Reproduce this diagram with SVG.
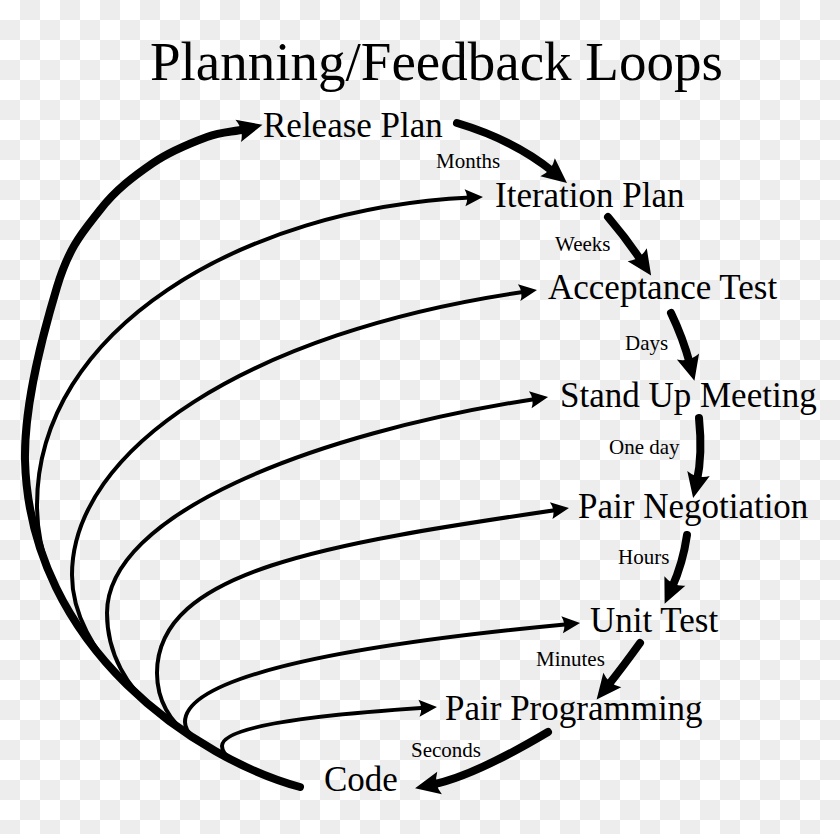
<svg xmlns="http://www.w3.org/2000/svg" width="840" height="834" viewBox="0 0 840 834">
<style>
.t{font-family:"Liberation Serif","Times New Roman",serif;fill:#000}
.n{font-size:35px}
.s{font-size:21px}
.h{font-size:55px}
.thin{fill:none;stroke:#000;stroke-width:4;marker-end:url(#ahs)}
.thick{fill:none;stroke:#000;stroke-width:8;stroke-linecap:round;marker-end:url(#ahl)}
</style>
<defs>
<pattern id="chk" x="0" y="0" width="40" height="40" patternUnits="userSpaceOnUse">
<rect x="0" y="0" width="40" height="40" fill="#ffffff"/>
<rect x="20" y="0" width="20" height="20" fill="#ededed"/>
<rect x="0" y="20" width="20" height="20" fill="#ededed"/>
</pattern>
<marker id="ahs" markerUnits="userSpaceOnUse" orient="auto" viewBox="-10 -12 30 24" markerWidth="30" markerHeight="24" refX="0" refY="0" overflow="visible">
<path d="M12.6,0 L-5.4,-8.5 Q-1,0 -5.4,8.5 Z" fill="#000"/>
</marker>
<marker id="ahl" markerUnits="userSpaceOnUse" orient="auto" viewBox="-12 -14 34 28" markerWidth="34" markerHeight="28" refX="0" refY="0" overflow="visible">
<path d="M17.5,0 L-7.5,-11.5 Q-1.5,0 -7.5,11.5 Z" fill="#000"/>
</marker>
</defs>
<rect x="0" y="0" width="840" height="834" fill="url(#chk)"/>
<text class="t h" x="150" y="80">Planning/Feedback Loops</text>
<g id="connectors">
<path class="thick" d="M300,787 C200,760 30,650 25,460 C24,401 44.5,328.7 57,287 C69.5,245.3 84,230.7 100,210 C116,189.3 135.2,175.2 153,163 C170.8,150.8 191.7,142.7 207,137 C222.3,131.3 232.5,132.2 245.5,129"/>
<path class="thin" d="M75.2,619.6 C60,596 37,560 37,505 C37,330 240.7,208.6 470.4,197.6"/>
<path class="thin" d="M120.3,677.9 C95,652 72,615 72,575 C72,450 247.3,332.1 524.5,291.8"/>
<path class="thin" d="M154.4,709.3 C128,688 107,655 107,613 C107,515 308.4,434.3 535.6,398.9"/>
<path class="thin" d="M190.2,735.7 C170,722.4 157,700 157,673 C157,570 329,543.7 556.5,509.9"/>
<path class="thin" d="M215.6,751.2 C200,742.3 185,735 185,722 C185,680 320,647.5 567.5,624.2"/>
<path class="thin" d="M251,769.2 C238,763.5 222,757 222,746 C222,728 300,716 424.4,707.8"/>
<path class="thick" d="M457,123 Q514,140 553.4,172"/>
<path class="thick" d="M608,217 Q626,238 641.4,261"/>
<path class="thick" d="M671,313 Q683,338 689.9,363.8"/>
<path class="thick" d="M699,418 Q702.7,454.7 696.9,480.9"/>
<path class="thick" d="M687,535 Q683,563 671.8,587.9"/>
<path class="thick" d="M640,643 Q622,668 607.6,685.9"/>
<path class="thick" d="M548,732 Q474,776 432.2,784.6"/>
<text class="t s" x="436" y="168">Months</text>
<text class="t s" x="555" y="251">Weeks</text>
<text class="t s" x="625" y="350">Days</text>
<text class="t s" x="609" y="454">One day</text>
<text class="t s" x="618" y="564">Hours</text>
<text class="t s" x="536" y="666">Minutes</text>
<text class="t s" x="411" y="757">Seconds</text>
</g>
<g id="release-plan"><text class="t n" x="263" y="137">Release Plan</text></g>
<g id="iteration-plan"><text class="t n" x="495" y="207">Iteration Plan</text></g>
<g id="acceptance-test"><text class="t n" x="548" y="299">Acceptance Test</text></g>
<g id="stand-up-meeting"><text class="t n" x="560" y="407">Stand Up Meeting</text></g>
<g id="pair-negotiation"><text class="t n" x="578" y="518">Pair Negotiation</text></g>
<g id="unit-test"><text class="t n" x="590" y="632">Unit Test</text></g>
<g id="pair-programming"><text class="t n" x="445" y="720">Pair Programming</text></g>
<g id="code"><text class="t n" x="324" y="791">Code</text></g>
</svg>
